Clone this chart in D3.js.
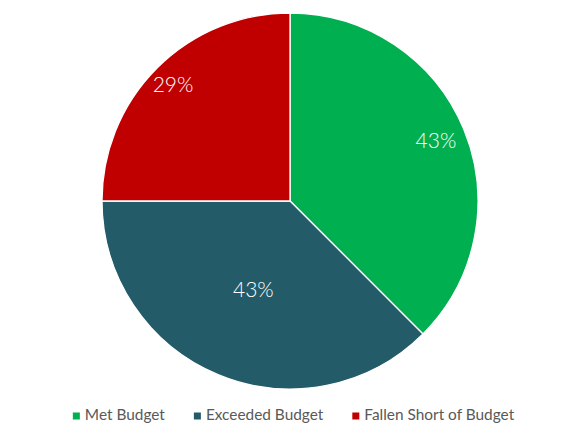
<!DOCTYPE html>
<html>
<head>
<meta charset="utf-8">
<script src="https://cdn.jsdelivr.net/npm/d3@7"></script>
<style>
  body { margin: 0; background: #fff; }
  svg { display: block; font-family: Lato, "Open Sans", sans-serif; }
</style>
</head>
<body>
<div id="pie"></div>
<script>
// chart data
const categories = ["Met Budget", "Exceeded Budget", "Fallen Short of Budget"];
const values = [3, 3, 2];
const labels = ["43%", "43%", "29%"];
const colors = ["#00B050", "#245B69", "#C00000"];

const width = 580, height = 435;
const cx = 290, cy = 201, radius = 188;
// label distance from centre as fraction of radius (best-fit placement)
const labelRadius = [0.84, 0.51, 0.88];

const svg = d3.select("div#pie")
    .append("svg")
    .attr("width", width)
    .attr("height", height);

const g = svg.append("g")
    .attr("transform", `translate(${cx},${cy})`);

const pie = d3.pie().sort(null).value(d => d);
const arcs = pie(values);

const arc = d3.arc().innerRadius(0).outerRadius(radius);

g.selectAll("path")
    .data(arcs)
    .join("path")
    .attr("d", arc)
    .attr("fill", (d, i) => colors[i])
    .attr("stroke", "#fff")
    .attr("stroke-width", 1.3);

// percentage labels
g.selectAll("text.lbl")
    .data(arcs)
    .join("text")
    .attr("class", "lbl")
    .attr("transform", (d, i) => {
        const r = radius * labelRadius[i];
        const a = (d.startAngle + d.endAngle) / 2;
        return `translate(${r * Math.sin(a)},${-r * Math.cos(a)})`;
    })
    .attr("text-anchor", "middle")
    .attr("dy", "0.36em")
    .attr("fill", "#fff")
    .style("font-size", "21px")
    .style("font-weight", 300)
    .text((d, i) => labels[i]);

// legend
const legend = svg.append("g").attr("class", "legend");
const items = legend.selectAll("g")
    .data(categories)
    .join("g");

items.append("rect")
    .attr("width", 7)
    .attr("height", 7)
    .attr("y", -7)
    .attr("fill", (d, i) => colors[i]);

items.append("text")
    .attr("x", 12)
    .attr("fill", "#595959")
    .style("font-size", "15.4px")
    .text(d => d);

let xpos = 0;
items.each(function() {
    const w = d3.select(this).select("text").node().getComputedTextLength();
    d3.select(this).attr("transform", `translate(${xpos},0)`);
    xpos += 12 + w + 29;
});
const total = xpos - 29;
legend.attr("transform", `translate(${293.5 - total / 2},419.5)`);
</script>
</body>
</html>
